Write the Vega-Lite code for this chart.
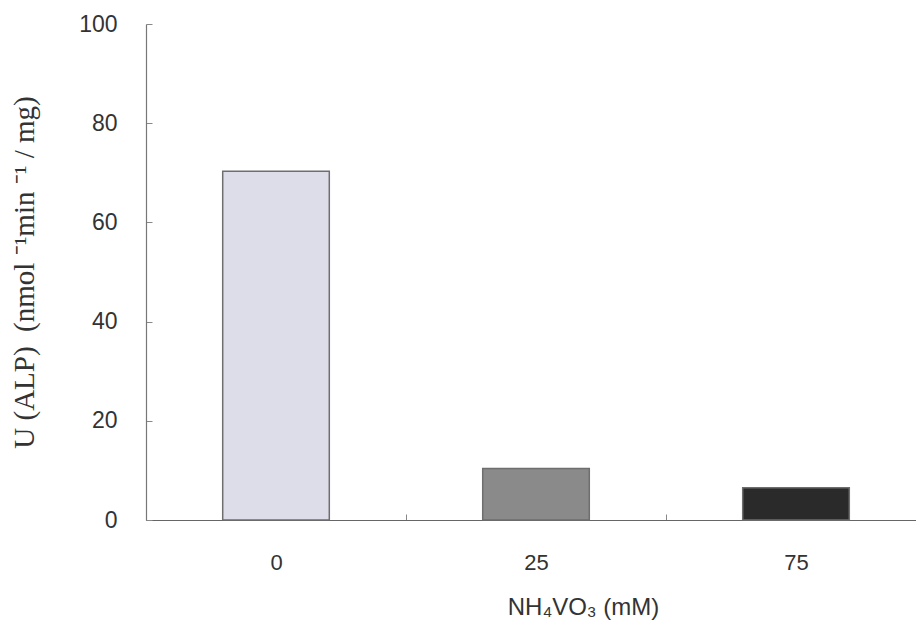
{
  "$schema": "https://vega.github.io/schema/vega-lite/v6.json",
  "autosize": "none",
  "width": 780,
  "height": 496,
  "padding": {"left": 146, "top": 24, "right": 0, "bottom": 103},
  "background": "white",
  "data": {"values": [
    {"conc": "0", "value": 70.3, "shade": "0"},
    {"conc": "25", "value": 10.4, "shade": "25"},
    {"conc": "75", "value": 6.5, "shade": "75"}
  ]},
  "mark": {"type": "bar", "width": {"band": 0.41}, "stroke": "#6e6e6e", "strokeWidth": 1.5},
  "encoding": {
    "x": {
      "field": "conc", "type": "ordinal", "sort": ["0", "25", "75"],
      "scale": {"paddingInner": 0, "paddingOuter": 0},
      "axis": {
        "title": "NH₄VO₃ (mM)", "titleFont": "Liberation Sans", "titleFontSize": 24, "titleFontWeight": "normal",
        "titleColor": "#333", "titlePadding": 22, "titleX": 437, "titleAlign": "center",
        "labelFont": "Liberation Sans", "labelFontSize": 22, "labelColor": "#333", "labelPadding": 38,
        "labelAngle": 0, "tickBand": "extent", "tickSize": -6, "tickColor": "#888",
        "domainColor": "#666", "domainWidth": 1.2
      }
    },
    "y": {
      "field": "value", "type": "quantitative",
      "scale": {"domain": [0, 100]},
      "axis": {
        "values": [0, 20, 40, 60, 80, 100],
        "title": "U (ALP)\u00a0\u00a0(nmol\u00a0⁻¹min\u00a0⁻¹\u00a0/\u00a0mg)", "titleFont": "Liberation Serif", "titleFontSize": 29,
        "titleFontWeight": "normal", "titleColor": "#333", "titlePadding": 39,
        "labelFont": "Liberation Sans", "labelFontSize": 23, "labelColor": "#333", "labelPadding": 35,
        "tickSize": -6, "tickColor": "#888", "domainColor": "#777", "domainWidth": 1.2, "grid": false
      }
    },
    "fill": {
      "field": "shade", "type": "nominal", "legend": null,
      "scale": {"domain": ["0", "25", "75"], "range": ["#dcdde8", "#8a8a8a", "#2a2a2a"]}
    }
  },
  "config": {"view": {"stroke": null}}
}
